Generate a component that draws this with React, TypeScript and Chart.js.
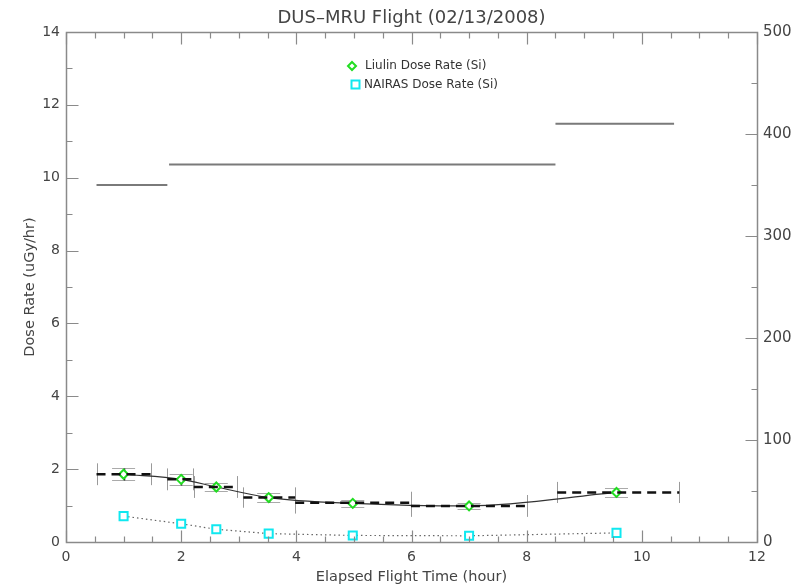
import React, { useEffect, useRef } from 'react';
import { Chart, registerables } from 'chart.js';

Chart.register(...registerables);

const FONT = '"DejaVu Sans", "Liberation Sans", sans-serif';

// Liulin measured dose rate (uGy/hr) at elapsed flight time (hour)
const liulinTime = [1.0, 2.0, 2.61, 3.52, 4.98, 7.0, 9.56];
const liulinDose = [1.86, 1.72, 1.51, 1.22, 1.06, 0.99, 1.36];
const liulinErr = [0.17, 0.15, 0.12, 0.12, 0.1, 0.08, 0.13];
const liulinTimeErr = [0.2, 0.2, 0.2, 0.2, 0.2, 0.2, 0.2];

// NAIRAS model dose rate
const nairasTime = [1.0, 2.0, 2.61, 3.52, 4.98, 7.0, 9.56];
const nairasDose = [0.71, 0.5, 0.35, 0.23, 0.18, 0.17, 0.25];

// Segment-averaged dose rate (dashed)
const segStart = [0.53, 1.76, 2.22, 3.08, 3.98, 5.99, 8.53];
const segEnd = [1.48, 2.21, 2.97, 3.98, 5.99, 8.0, 10.65];
const segDose = [1.86, 1.72, 1.51, 1.22, 1.08, 0.99, 1.36];
const segErr = [0.3, 0.3, 0.3, 0.28, 0.3, 0.3, 0.29];

// Flight altitude (right axis)
const altStart = [0.53, 1.79, 8.5];
const altEnd = [1.76, 8.5, 10.56];
const altLevel = [350, 370, 410];

const xTickStep = 2;
const yTickStep = 2;
const y2TickStep = 100;

const TITLE = 'DUS\u2013MRU Flight (02/13/2008)';
const X_TITLE = 'Elapsed Flight Time (hour)';
const Y_TITLE = 'Dose Rate (uGy/hr)';
const LEGEND = ['Liulin Dose Rate (Si)', 'NAIRAS Dose Rate (Si)'];

const GREEN = '#22dd22';
const CYAN = '#10e8f0';
const AXIS = '#8a8a8a';
const TEXT = '#444';

export default function App() {
  const ref = useRef<HTMLCanvasElement>(null);

  useEffect(() => {
    const canvas = ref.current;
    if (!canvas) return;

    const segData: any[] = [];
    segStart.forEach((s, i) => {
      segData.push({ x: s, y: segDose[i] }, { x: segEnd[i], y: segDose[i] }, { x: segEnd[i], y: null });
    });
    const altData: any[] = [];
    altStart.forEach((s, i) => {
      altData.push({ x: s, y: altLevel[i] }, { x: altEnd[i], y: altLevel[i] }, { x: altEnd[i], y: null });
    });

    const decor = {
      id: 'decor',
      beforeDatasetsDraw(chart: any) {
        const { ctx, scales } = chart;
        const x = scales.x, y = scales.y;
        ctx.save();
        // segment end bars
        ctx.strokeStyle = '#9a9a9a';
        ctx.lineWidth = 1;
        segStart.forEach((s, i) => {
          [s, segEnd[i]].forEach((xv) => {
            const px = Math.round(x.getPixelForValue(xv)) + 0.5;
            ctx.beginPath();
            ctx.moveTo(px, y.getPixelForValue(segDose[i] + segErr[i]));
            ctx.lineTo(px, y.getPixelForValue(segDose[i] - segErr[i]));
            ctx.stroke();
          });
        });
        // liulin error bars
        liulinTime.forEach((t, i) => {
          const px = Math.round(x.getPixelForValue(t)) + 0.5;
          const top = Math.round(y.getPixelForValue(liulinDose[i] + liulinErr[i])) + 0.5;
          const bot = Math.round(y.getPixelForValue(liulinDose[i] - liulinErr[i])) + 0.5;
          const l = x.getPixelForValue(t - liulinTimeErr[i]);
          const r = x.getPixelForValue(t + liulinTimeErr[i]);
          ctx.strokeStyle = '#aaaaaa';
          ctx.lineWidth = 1;
          ctx.beginPath();
          ctx.moveTo(l, top); ctx.lineTo(r, top);
          ctx.moveTo(l, bot); ctx.lineTo(r, bot);
          ctx.stroke();
          ctx.strokeStyle = '#222';
          ctx.lineWidth = 1.5;
          ctx.beginPath();
          ctx.moveTo(px, top); ctx.lineTo(px, bot);
          ctx.stroke();
        });
        ctx.restore();
      },
      afterDraw(chart: any) {
        const { ctx, chartArea, scales } = chart;
        const x = scales.x, y = scales.y, y2 = scales.y2;
        const L = Math.round(chartArea.left) + 0.5;
        const R = Math.round(chartArea.right) + 0.5;
        const T = Math.round(chartArea.top) + 0.5;
        const B = Math.round(chartArea.bottom) + 0.5;
        ctx.save();
        ctx.strokeStyle = AXIS;
        ctx.lineWidth = 1.5;
        ctx.beginPath();
        ctx.rect(L, T, R - L, B - T);
        ctx.stroke();
        ctx.lineWidth = 1.2;
        ctx.beginPath();
        // x ticks (bottom & top)
        for (let v = x.min; v <= x.max + 1e-9; v += 0.5) {
          const px = Math.round(x.getPixelForValue(v)) + 0.5;
          const len = Math.abs(v % 2) < 1e-9 ? 12 : 6;
          ctx.moveTo(px, B); ctx.lineTo(px, B - len);
          ctx.moveTo(px, T); ctx.lineTo(px, T + len);
        }
        // left ticks
        for (let v = y.min; v <= y.max + 1e-9; v += 1) {
          const py = Math.round(y.getPixelForValue(v)) + 0.5;
          const len = v % 2 === 0 ? 12 : 6;
          ctx.moveTo(L, py); ctx.lineTo(L + len, py);
        }
        // right ticks
        for (let v = y2.min; v <= y2.max + 1e-9; v += 50) {
          const py = Math.round(y2.getPixelForValue(v)) + 0.5;
          const len = v % 100 === 0 ? 12 : 6;
          ctx.moveTo(R, py); ctx.lineTo(R - len, py);
        }
        ctx.stroke();

        // legend
        const lx = chartArea.left + 286;
        const ly1 = chartArea.top + 34;
        const ly2 = chartArea.top + 52;
        ctx.lineWidth = 2;
        ctx.strokeStyle = GREEN;
        ctx.fillStyle = '#fff';
        ctx.beginPath();
        ctx.moveTo(lx, ly1 - 4); ctx.lineTo(lx + 4, ly1); ctx.lineTo(lx, ly1 + 4); ctx.lineTo(lx - 4, ly1); ctx.closePath();
        ctx.fill(); ctx.stroke();
        ctx.strokeStyle = CYAN;
        ctx.beginPath();
        ctx.rect(lx - 0.5, ly2 - 3.5, 8, 8);
        ctx.fill(); ctx.stroke();
        ctx.fillStyle = '#333';
        ctx.font = `12px ${FONT}`;
        ctx.textBaseline = 'middle';
        ctx.textAlign = 'left';
        ctx.fillText(LEGEND[0], lx + 13, ly1);
        ctx.fillText(LEGEND[1], lx + 12, ly2 + 0.5);
        ctx.restore();
      },
    };

    const chart = new Chart(canvas, {
      type: 'line',
      data: {
        datasets: [
          {
            label: 'Altitude',
            data: altData,
            yAxisID: 'y2',
            borderColor: '#7a7a7a',
            borderWidth: 2,
            pointRadius: 0,
            spanGaps: false,
          },
          {
            label: 'Segment average',
            data: segData,
            yAxisID: 'y',
            borderColor: '#111',
            borderWidth: 2.5,
            borderDash: [9, 6],
            pointRadius: 0,
            spanGaps: false,
          },
          {
            label: 'NAIRAS Dose Rate (Si)',
            data: nairasTime.map((t, i) => ({ x: t, y: nairasDose[i] })),
            yAxisID: 'y',
            borderColor: '#666',
            borderWidth: 1.2,
            borderDash: [1.5, 3],
            pointStyle: 'rect',
            pointRadius: 5.7,
            pointBorderColor: CYAN,
            pointBackgroundColor: '#fff',
            pointBorderWidth: 2,
          },
          {
            label: 'Liulin Dose Rate (Si)',
            data: liulinTime.map((t, i) => ({ x: t, y: liulinDose[i] })),
            yAxisID: 'y',
            borderColor: '#333',
            borderWidth: 1.2,
            cubicInterpolationMode: 'monotone',
            pointStyle: 'rectRot',
            pointRadius: 4.5,
            pointBorderColor: GREEN,
            pointBackgroundColor: '#fff',
            pointBorderWidth: 2,
          },
        ],
      },
      options: {
        responsive: false,
        animation: false,
        devicePixelRatio: 1,
        layout: { padding: 0 },
        plugins: {
          legend: { display: false },
          tooltip: { enabled: false },
          title: {
            display: true,
            text: TITLE,
            fullSize: false,
            color: TEXT,
            font: { family: FONT, size: 18, weight: 'normal' },
            padding: { top: 8, bottom: 2.4 },
          },
        },
        scales: {
          x: {
            type: 'linear',
            position: 'bottom',
            min: 0,
            max: 12,
            ticks: { stepSize: xTickStep, color: TEXT, font: { family: FONT, size: 14 }, padding: 7, maxRotation: 0 },
            grid: { display: false, drawTicks: false },
            border: { display: false },
            title: {
              display: true,
              text: X_TITLE,
              color: TEXT,
              font: { family: FONT, size: 14.5 },
              padding: { top: 0, bottom: 1 },
            },
            afterFit: (s: any) => { s.height = 45; },
          },
          y: {
            type: 'linear',
            position: 'left',
            min: 0,
            max: 14,
            ticks: { stepSize: yTickStep, color: TEXT, font: { family: FONT, size: 14 }, padding: 6 },
            grid: { display: false, drawTicks: false },
            border: { display: false },
            title: {
              display: true,
              text: Y_TITLE,
              color: TEXT,
              font: { family: FONT, size: 14.5 },
              padding: { top: 22, bottom: 0 },
            },
            afterFit: (s: any) => { s.width = 66; },
          },
          y2: {
            type: 'linear',
            position: 'right',
            min: 0,
            max: 500,
            ticks: { stepSize: y2TickStep, color: TEXT, font: { family: FONT, size: 15 }, padding: 6 },
            grid: { display: false, drawTicks: false },
            border: { display: false },
            afterFit: (s: any) => { s.width = 93; },
          },
        },
      },
      plugins: [decor],
    } as any);

    return () => chart.destroy();
  }, []);

  return (
    <div
      style={{
        position: 'fixed',
        left: 0,
        top: 0,
        width: 792,
        height: 587,
        overflow: 'hidden',
        background: '#fff',
      }}
    >
      <canvas ref={ref} width={850} height={587} style={{ display: 'block' }} />
    </div>
  );
}
